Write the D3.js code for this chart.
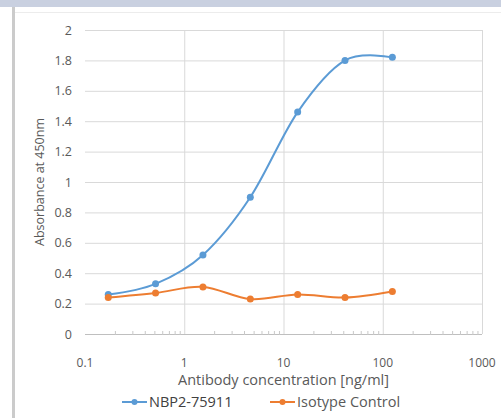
<!DOCTYPE html>
<html>
<head>
<meta charset="utf-8">
<script src="https://cdn.jsdelivr.net/npm/d3@7"></script>
<style>
  body { margin: 0; background: #fff; }
  svg text { font-family: "Open Sans", "Noto Sans", sans-serif; fill: #595959; }
</style>
</head>
<body>
<svg id="chart" width="501" height="418"></svg>
<script>
// 3-fold dilution series, ng/ml
var concentrations = [0.1715, 0.514, 1.543, 4.63, 13.89, 41.67, 125];
var antibodyValues = [0.26, 0.33, 0.52, 0.90, 1.46, 1.80, 1.82];
var isotypeValues = [0.24, 0.27, 0.31, 0.23, 0.26, 0.24, 0.28];
var seriesNames = ["NBP2-75911", "Isotype Control"];
var seriesColors = ["#5b9bd5", "#ed7d31"];
var yTicks = [0, 0.2, 0.4, 0.6, 0.8, 1, 1.2, 1.4, 1.6, 1.8, 2];
var xTicks = [0.1, 1, 10, 100, 1000];

var svg = d3.select("#chart");

// page frame bits from the screenshot
svg.append("rect").attr("x", 0).attr("y", 0).attr("width", 501).attr("height", 7).attr("fill", "#c9d0e0");
svg.append("rect").attr("x", 12).attr("y", 7).attr("width", 3).attr("height", 411).attr("fill", "#cbcbcb");
svg.append("line").attr("x1", 15).attr("x2", 501).attr("y1", 12.5).attr("y2", 12.5).attr("stroke", "#ececec");

var margin = {left: 85, right: 19, top: 30, bottom: 84};
var x = d3.scaleLog().domain([0.1, 1000]).range([margin.left, 501 - margin.right]);
var y = d3.scaleLinear().domain([0, 2]).range([418 - margin.bottom, margin.top]);

// grid
var g = svg.append("g");
g.selectAll(".hgrid").data(yTicks.slice(1)).enter().append("line")
  .attr("x1", x(0.1)).attr("x2", x(1000))
  .attr("y1", function(d) { return y(d) + 0.5; }).attr("y2", function(d) { return y(d) + 0.5; })
  .attr("stroke", "#d9d9d9");
g.selectAll(".vgrid").data(xTicks.slice(1)).enter().append("line")
  .attr("x1", function(d) { return x(d) + 0.5; }).attr("x2", function(d) { return x(d) + 0.5; })
  .attr("y1", y(2)).attr("y2", y(0))
  .attr("stroke", "#d9d9d9");

// x axis line + minor ticks
g.append("line").attr("x1", x(0.1)).attr("x2", x(1000)).attr("y1", y(0) + 0.5).attr("y2", y(0) + 0.5).attr("stroke", "#bfbfbf");
var minor = [];
[0.1, 1, 10, 100].forEach(function(dec) {
  for (var k = 2; k <= 9; k++) minor.push(dec * k);
});
g.selectAll(".minor").data(minor).enter().append("line")
  .attr("x1", function(d) { return x(d) + 0.5; }).attr("x2", function(d) { return x(d) + 0.5; })
  .attr("y1", y(0) - 3).attr("y2", y(0) + 1)
  .attr("stroke", "#c8c8c8");

// tick labels
svg.selectAll(".ylab").data(yTicks).enter().append("text")
  .attr("x", 72).attr("y", function(d) { return y(d) + 4.5; })
  .attr("text-anchor", "end").attr("font-size", 12.5)
  .text(function(d) { return d; });
svg.selectAll(".xlab").data(xTicks).enter().append("text")
  .attr("x", function(d) { return x(d); }).attr("y", 367)
  .attr("text-anchor", "middle").attr("font-size", 12)
  .text(function(d) { return d; });

// axis titles
svg.append("text").attr("x", x(10)).attr("y", 385).attr("text-anchor", "middle").attr("font-size", 14.5)
  .text("Antibody concentration [ng/ml]");
svg.append("text").attr("transform", "translate(44," + y(1) + ") rotate(-90)")
  .attr("text-anchor", "middle").attr("font-size", 12.5)
  .text("Absorbance at 450nm");

// series
var series = [antibodyValues, isotypeValues];
var line = d3.line()
  .x(function(d, i) { return x(concentrations[i]); })
  .y(function(d) { return y(d); })
  .curve(d3.curveCatmullRom.alpha(0));

series.forEach(function(vals, s) {
  svg.append("path").datum(vals)
    .attr("d", line).attr("fill", "none")
    .attr("stroke", seriesColors[s]).attr("stroke-width", 2);
  svg.selectAll(".pt" + s).data(vals).enter().append("circle")
    .attr("cx", function(d, i) { return x(concentrations[i]); })
    .attr("cy", function(d) { return y(d); })
    .attr("r", 3.5)
    .attr("fill", seriesColors[s]);
});

// legend
var legX = [122, 270];
var legColors = ["#404040", "#595959"];
seriesNames.forEach(function(name, s) {
  var lg = svg.append("g").attr("transform", "translate(" + legX[s] + ",402)");
  lg.append("line").attr("x1", 0).attr("x2", 25).attr("y1", 0).attr("y2", 0)
    .attr("stroke", seriesColors[s]).attr("stroke-width", 2);
  lg.append("circle").attr("cx", 12.5).attr("cy", 0).attr("r", 3).attr("fill", seriesColors[s]);
  lg.append("text").attr("x", 27).attr("y", 5).attr("font-size", 14.5)
    .style("fill", legColors[s]).text(name);
});
</script>
</body>
</html>
